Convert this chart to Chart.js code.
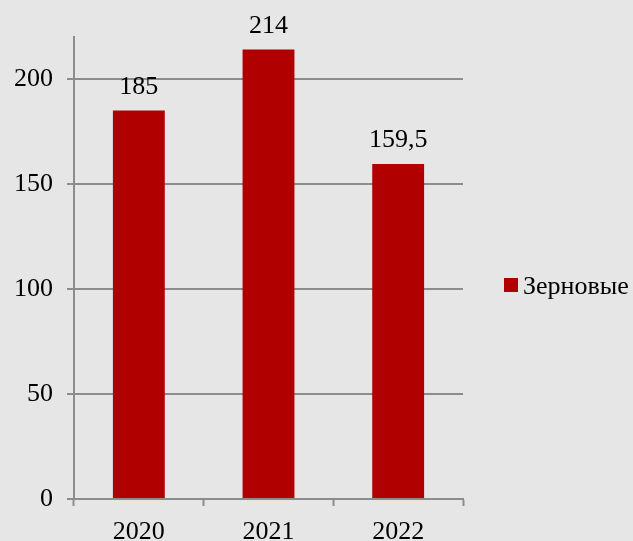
<!DOCTYPE html>
<html>
<head>
<meta charset="utf-8">
<script src="https://cdn.jsdelivr.net/npm/chart.js@4/dist/chart.umd.min.js"></script>
<style>
    html, body { margin: 0; padding: 0; background: #e6e6e6; }
    canvas { display: block; }
</style>
</head>
<body>
<canvas id="myChart" width="633" height="541"></canvas>
<script>
var years = ["2020", "2021", "2022"];
var zerno = [185, 214, 159.5];
var seriesName = "Зерновые";
var barColor = "rgb(176, 0, 0)";

var serif = "'Liberation Serif', 'DejaVu Serif', 'Times New Roman', serif";

// value labels above bars
var valueLabels = {
    id: "valueLabels",
    afterDatasetsDraw: function (chart) {
        var ctx = chart.ctx;
        var meta = chart.getDatasetMeta(0);
        ctx.save();
        ctx.font = "26px " + serif;
        ctx.fillStyle = "#000";
        ctx.textAlign = "center";
        ctx.textBaseline = "alphabetic";
        meta.data.forEach(function (bar, i) {
            var txt = String(zerno[i]).replace(".", ",");
            ctx.fillText(txt, bar.x, bar.y - 17);
        });
        ctx.restore();
    },
};

// legend on the right side
var sideLegend = {
    id: "sideLegend",
    afterDraw: function (chart) {
        var ctx = chart.ctx;
        var x = chart.chartArea.right + 41;
        var y = 285;
        ctx.save();
        ctx.fillStyle = barColor;
        ctx.fillRect(x, y - 7, 14, 14);
        ctx.font = "26px " + serif;
        ctx.fillStyle = "#000";
        ctx.textAlign = "left";
        ctx.textBaseline = "middle";
        ctx.fillText(chart.data.datasets[0].label, x + 19, y + 2);
        ctx.restore();
    },
};

var data = {
    labels: years,
    datasets: [
        {
            label: seriesName,
            data: zerno,
            backgroundColor: barColor,
            categoryPercentage: 1,
            barPercentage: 0.4,
        },
    ],
};

var config = {
    type: "bar",
    data: data,
    options: {
        responsive: false,
        animation: false,
        devicePixelRatio: 1,
        layout: {
            padding: { top: 37, left: 0, right: 170, bottom: 0 },
        },
        plugins: {
            legend: { display: false },
            tooltip: { enabled: false },
        },
        scales: {
            x: {
                afterFit: function (scale) {
                    scale.height = 42;
                },
                grid: {
                    offset: true,
                    drawOnChartArea: false,
                    drawTicks: true,
                    tickLength: 7,
                    tickWidth: 2,
                    tickColor: "#8c8c8c",
                },
                border: { color: "#8c8c8c", width: 2 },
                ticks: {
                    color: "#000",
                    padding: 16,
                    font: { family: serif, size: 26, lineHeight: 0.8 },
                },
            },
            y: {
                min: 0,
                max: 220,
                afterBuildTicks: function (scale) {
                    scale.ticks = scale.ticks.filter(function (t) {
                        return t.value % 50 === 0;
                    });
                },
                ticks: {
                    stepSize: 50,
                    color: "#000",
                    padding: 14,
                    font: { family: serif, size: 26 },
                },
                grid: {
                    color: "#8c8c8c",
                    lineWidth: 2,
                    tickLength: 7,
                },
                border: { color: "#8c8c8c", width: 2 },
            },
        },
    },
    plugins: [valueLabels, sideLegend],
};

var myChart = new Chart(document.getElementById("myChart"), config);
</script>
</body>
</html>
